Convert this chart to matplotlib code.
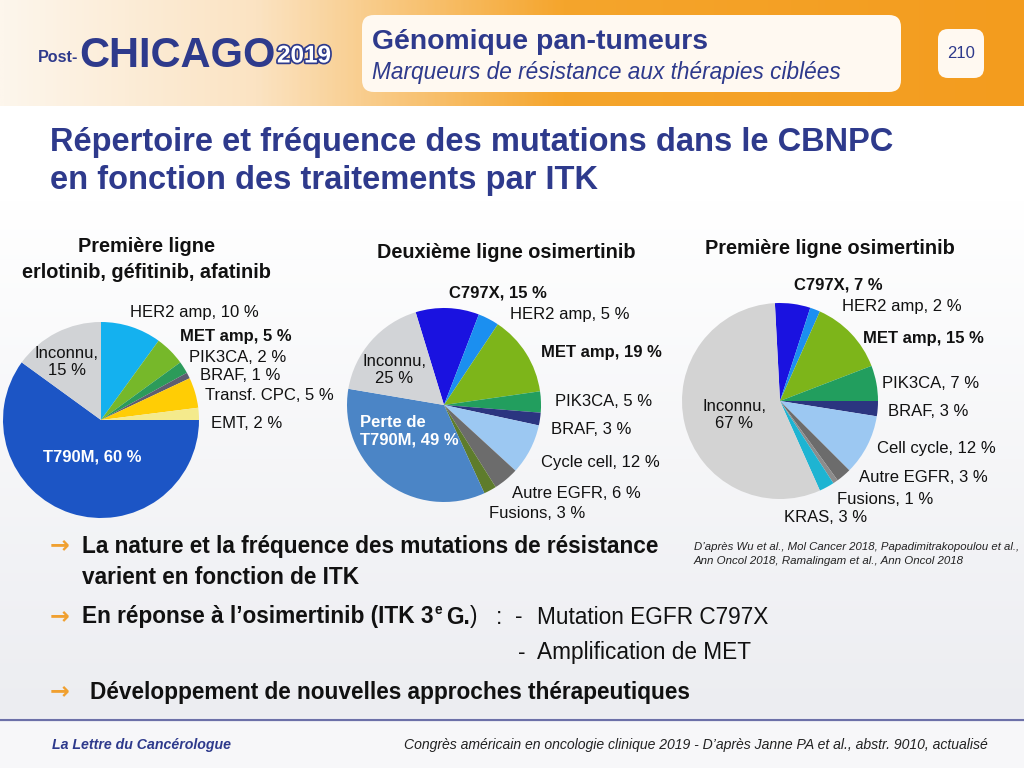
import numpy as np
import matplotlib
matplotlib.use("Agg")
import matplotlib.pyplot as plt
import matplotlib.patheffects as pe
from matplotlib.patches import FancyBboxPatch
from matplotlib.colors import LinearSegmentedColormap

# ---------------------------
# Data
# ---------------------------
pie1_labels = ["HER2 amp", "MET amp", "PIK3CA", "BRAF", "Transf. CPC", "EMT", "T790M", "Inconnu"]
pie1_values = [10, 5, 2, 1, 5, 2, 60, 15]
pie1_colors = ["#14B1EF", "#76B82A", "#2C9B5A", "#5E5E70", "#FFCD05", "#F4EA8C", "#1C55C5", "#D1D3D6"]

pie2_labels = ["C797X", "HER2 amp", "MET amp", "PIK3CA", "BRAF", "Cycle cell",
               "Autre EGFR", "Fusions", "Perte de T790M", "Inconnu"]
pie2_values = [15, 5, 19, 5, 3, 12, 6, 3, 49, 25]
pie2_colors = ["#1A12E0", "#1B8FF0", "#7DB51A", "#229E5E", "#2B3580", "#9CC8F2",
               "#6C6C6C", "#5E7C2C", "#4B85C6", "#D2D4D7"]

pie3_labels = ["C797X", "HER2 amp", "MET amp", "PIK3CA", "BRAF", "Cell cycle",
               "Autre EGFR", "Fusions", "KRAS", "Inconnu"]
pie3_values = [7, 2, 15, 7, 3, 12, 3, 1, 3, 67]
pie3_colors = ["#1A12E0", "#1B8FF0", "#7DB51A", "#229E5E", "#2B3580", "#9CC8F2",
               "#6C6C6C", "#8C8C8C", "#1EB4D2", "#D3D3D3"]

W, H = 1024, 768
NAVY = "#2E3A8C"
NARROW = ["Liberation Sans Narrow", "Liberation Sans", "DejaVu Sans"]
SANS = ["Liberation Sans", "DejaVu Sans"]

fig = plt.figure(figsize=(W / 100, H / 100), dpi=100)

# ---------------------------
# Background layer
# ---------------------------
bg = fig.add_axes([0, 0, 1, 1], zorder=0)
bg.set_xlim(0, W)
bg.set_ylim(H, 0)
bg.axis("off")

wash = np.linspace(0, 1, 200).reshape(-1, 1)
cm_wash = LinearSegmentedColormap.from_list("wash", ["#FFFFFF", "#ECEDF1"])
bg.imshow(wash, cmap=cm_wash, extent=[0, W, 718, 200], aspect="auto", zorder=0)
bg.add_patch(plt.Rectangle((0, 718), W, 50, color="#F7F7F9", zorder=0))

grad = np.linspace(0, 1, 400).reshape(1, -1)
cm_head = LinearSegmentedColormap.from_list(
    "head", [(0, "#FDF6EC"), (0.25, "#FBE3C2"), (0.55, "#F5A52C"), (1, "#F39C1E")])
bg.imshow(grad, cmap=cm_head, extent=[0, W, 106, 0], aspect="auto", zorder=1)

bg.add_patch(FancyBboxPatch((362, 15), 539, 77, boxstyle="round,pad=0,rounding_size=12",
                            fc="#FFF9F1", ec="none", zorder=2))
bg.add_patch(FancyBboxPatch((938, 29), 46, 49, boxstyle="round,pad=0,rounding_size=10",
                            fc="#FFF9F1", ec="none", zorder=2))

bg.plot([0, W], [720, 720], color="#6C70A8", lw=1.6, zorder=3)

# ---------------------------
# Pies
# ---------------------------
def add_pie(cx, cy, r, values, colors, start):
    ax = fig.add_axes([(cx - r) / W, 1 - (cy + r) / H, 2 * r / W, 2 * r / H], zorder=1)
    ax.pie(values, colors=colors, startangle=start, counterclock=False,
           wedgeprops=dict(linewidth=0))
    ax.set_xlim(-1, 1)
    ax.set_ylim(-1, 1)
    ax.axis("off")
    return ax

add_pie(101, 420, 98, pie1_values, pie1_colors, 90)
add_pie(444, 405, 97, pie2_values, pie2_colors, 107)
add_pie(780, 401, 98, pie3_values, pie3_colors, 93)

# ---------------------------
# Text layer
# ---------------------------
tx = fig.add_axes([0, 0, 1, 1], zorder=5)
tx.set_xlim(0, W)
tx.set_ylim(H, 0)
tx.axis("off")
tx.patch.set_alpha(0)
renderer = fig.canvas.get_renderer()


def fit(x, y, s, width, **kw):
    # size the text so it spans `width` pixels, like the narrow font of the slide
    t = tx.text(x, y, s, fontsize=10, **kw)
    w = t.get_window_extent(renderer).width
    t.set_fontsize(10 * width / w)
    return t


def right_of(t):
    return t.get_window_extent(renderer).x1


# logo
fit(38, 57, "Post-", 40, fontweight="bold", color=NAVY, family=NARROW, va="center")
fit(79, 56, "CHICAGO", 196, fontweight="bold", color=NAVY, family=NARROW, va="center")
fit(277, 56, "2019", 54, fontweight="bold", color="white", family=NARROW, va="center",
    path_effects=[pe.Stroke(linewidth=2.5, foreground=NAVY), pe.Normal()])

# header box
fit(372, 42, "Génomique pan-tumeurs", 336, fontweight="bold", color=NAVY,
    family=SANS, va="center")
fit(372, 72, "Marqueurs de résistance aux thérapies ciblées", 470,
    style="italic", color=NAVY, family=SANS, va="center")
tx.text(961, 53, "210", fontsize=12, color=NAVY, family=SANS, va="center", ha="center")

# slide title
t = fit(50, 143, "Répertoire et fréquence des mutations dans le CBNPC", 843,
        fontweight="bold", color=NAVY, family=NARROW, va="center")
tx.text(50, 180, "en fonction des traitements par ITK", fontsize=t.get_fontsize(),
        fontweight="bold", color=NAVY, family=NARROW, va="center")

# pie titles
ttl = dict(fontsize=14.3, fontweight="bold", color="#111111", family=SANS,
           va="center", ha="center")
tx.text(146, 247, "Première ligne", **ttl)
tx.text(146, 272, "erlotinib, géfitinib, afatinib", **ttl)
tx.text(506, 253, "Deuxième ligne osimertinib", **ttl)
tx.text(830, 248, "Première ligne osimertinib", **ttl)

LFS = 12
lab = dict(fontsize=LFS, color="#111111", family=SANS, va="center", ha="left")
labb = dict(lab, fontweight="bold")


def pct(i, names, vals):
    return f"{names[i]}, {vals[i]} %"


# pie 1 labels
p1_pos = [(130, 313, lab), (180, 337, labb), (189, 358, lab), (200, 376, lab),
          (205, 395, lab), (211, 423, lab)]
for i, (x, y, st) in enumerate(p1_pos):
    tx.text(x, y, pct(i, pie1_labels, pie1_values), **st)
tx.text(67, 362, f"{pie1_labels[7]},\n{pie1_values[7]} %", fontsize=LFS, color="#111111",
        family=SANS, ha="center", va="center", linespacing=1.2)
tx.text(92, 457, pct(6, pie1_labels, pie1_values), fontsize=LFS, fontweight="bold",
        color="white", family=SANS, ha="center", va="center")

# pie 2 labels
p2_pos = [(449, 293, labb), (510, 315, lab), (541, 353, labb), (555, 402, lab),
          (551, 430, lab), (541, 462, lab), (512, 493, lab), (489, 513, lab)]
for i, (x, y, st) in enumerate(p2_pos):
    tx.text(x, y, pct(i, pie2_labels, pie2_values), **st)
tx.text(394, 370, f"{pie2_labels[9]},\n{pie2_values[9]} %", fontsize=LFS, color="#111111",
        family=SANS, ha="center", va="center", linespacing=1.2)
tx.text(360, 431, f"Perte de\nT790M, {pie2_values[8]} %", fontsize=LFS, fontweight="bold",
        color="white", family=SANS, ha="left", va="center", linespacing=1.2)

# pie 3 labels
p3_pos = [(794, 285, labb), (842, 306, lab), (863, 339, labb), (882, 383, lab),
          (888, 411, lab), (877, 448, lab), (859, 477, lab), (837, 500, lab),
          (784, 517, lab)]
for i, (x, y, st) in enumerate(p3_pos):
    tx.text(x, y, pct(i, pie3_labels, pie3_values), **st)
tx.text(734, 415, f"{pie3_labels[9]},\n{pie3_values[9]} %", fontsize=LFS, color="#111111",
        family=SANS, ha="center", va="center", linespacing=1.2)

# references
ref = dict(style="italic", color="#222222", family=NARROW, va="center")
fit(694, 547, "D’après Wu et al., Mol Cancer 2018, Papadimitrakopoulou et al.,", 326, **ref)
fit(694, 561, "Ann Oncol 2018, Ramalingam et al., Ann Oncol 2018", 270, **ref)

# bullets
ORANGE = "#F0A030"
arrow = dict(fontsize=17, color=ORANGE, fontweight="bold", family=["DejaVu Sans"],
             va="center", ha="left")
b1 = fit(82, 546, "La nature et la fréquence des mutations de résistance", 580,
         fontweight="bold", color="#111111", family=NARROW, va="center")
BFS = b1.get_fontsize()
bul = dict(fontsize=BFS, color="#111111", family=NARROW, va="center", ha="left")
bulb = dict(bul, fontweight="bold")

tx.text(50, 545, "→", **arrow)
tx.text(82, 578, "varient en fonction de ITK", **bulb)

tx.text(50, 616, "→", **arrow)
t1 = tx.text(82, 617, "En réponse à l’osimertinib (ITK 3", **bulb)
t2 = tx.text(right_of(t1) + 1, 610, "e", **dict(bulb, fontsize=BFS * 0.6))
t3 = tx.text(right_of(t2) + 4, 617, "G.", **bulb)
tx.text(right_of(t3), 617, ")", **bul)
tx.text(496, 617, ":", **bul)
tx.text(515, 617, "-", **bul)
tx.text(537, 617, "Mutation EGFR C797X", **bul)
tx.text(518, 653, "-", **bul)
tx.text(537, 653, "Amplification de MET", **bul)

tx.text(50, 691, "→", **arrow)
tx.text(90, 693, "Développement de nouvelles approches thérapeutiques", **bulb)

# footer
fit(52, 745, "La Lettre du Cancérologue", 180, style="italic", fontweight="bold",
    color=NAVY, family=NARROW, va="center")
fit(988, 745, "Congrès américain en oncologie clinique 2019 - D’après Janne PA et al., "
    "abstr. 9010, actualisé", 590, style="italic", color="#222222",
    family=NARROW, va="center", ha="right")

fig.savefig("out.png", dpi=100)
